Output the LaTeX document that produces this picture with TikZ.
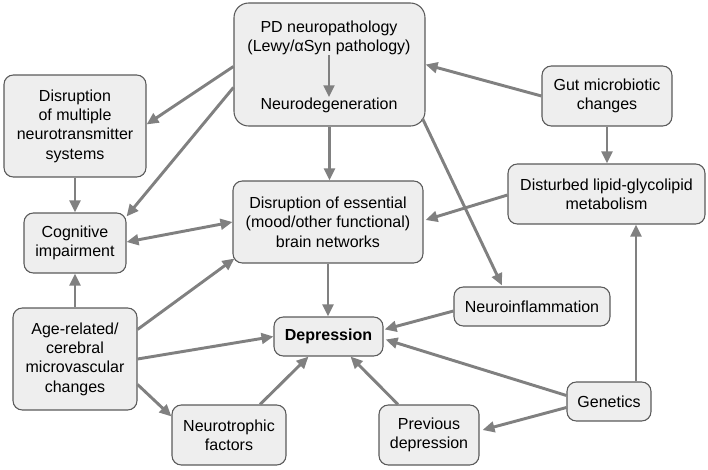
\documentclass[tikz,border=0pt]{standalone}
\usepackage{fontspec}
\setmainfont{Liberation Sans}
\usetikzlibrary{arrows.meta,calc}
\definecolor{boxfill}{HTML}{EEEEEE}
\definecolor{boxline}{HTML}{5A5A5A}
\definecolor{arrowcol}{HTML}{808080}
\begin{document}
\begin{tikzpicture}[x=0.75pt,y=-0.75pt,
  box/.style={draw=boxline,fill=boxfill,line width=0.8pt,rounded corners=7pt,align=center,inner sep=0pt,font=\fontsize{12}{14.5}\selectfont},
  txt/.style={align=center,inner sep=0pt,font=\fontsize{12}{14.5}\selectfont},
  conn/.style={draw=arrowcol,line width=2.2pt,-{Triangle[length=9pt,width=8pt]}},
  bconn/.style={draw=arrowcol,line width=2.2pt,{Triangle[length=9pt,width=8pt]}-{Triangle[length=9pt,width=8pt]}}]
\useasboundingbox (0,0) rectangle (708,469);
% boxes
\node[box,rounded corners=11pt,minimum width=143.25pt,minimum height=92.25pt] (pd) at (329.5,64.5) {};
\node[txt] (pdtext) at (329,38) {PD neuropathology\\(Lewy/αSyn pathology)};
\node[txt] (neurodeg) at (329,105) {Neurodegeneration};
\node[box,minimum width=106.5pt,minimum height=76.5pt] (multi) at (75,126) {Disruption\\of multiple\\neurotransmitter\\systems};
\node[box,minimum width=76.5pt,minimum height=45pt] (cog) at (75,243) {Cognitive\\impairment};
\node[box,minimum width=97.5pt,minimum height=45pt] (gut) at (607,96) {Gut microbiotic\\changes};
\node[box,minimum width=147.75pt,minimum height=45pt] (lipid) at (606.5,194) {Disturbed lipid-glycolipid\\metabolism};
\node[box,minimum width=142.5pt,minimum height=61.5pt] (ess) at (328,222) {Disruption of essential\\(mood/other functional)\\brain networks};
\node[box,minimum width=93pt,minimum height=76.5pt] (age) at (75,359) {Age-related/\\cerebral\\microvascular\\changes};
\node[box,minimum width=85.5pt,minimum height=45pt] (nt) at (229,435) {Neurotrophic\\factors};
\node[box,minimum width=81.75pt,minimum height=29.25pt,font=\fontsize{12}{14.5}\selectfont\bfseries] (dep) at (328.5,336.5) {Depression};
\node[box,minimum width=117pt,minimum height=29.25pt] (inflam) at (532,306.5) {Neuroinflammation};
\node[box,minimum width=63pt,minimum height=29.25pt] (gen) at (609,401.5) {Genetics};
\node[box,minimum width=75pt,minimum height=45pt] (prev) at (429,435) {Previous\\depression};
% connectors
\draw[conn] (pdtext) -- (neurodeg);
\draw[conn] ($(pd.north west)+(0,64)$) -- ($(multi.north east)+(0,50)$);
\draw[conn] ($(pd.north west)+(0,85)$) -- ($(cog.north east)+(0,4)$);
\draw[conn] (multi.south) -- (cog.north);
\draw[bconn] ($(cog.east)+(0,-1)$) -- (ess.west);
\draw[conn] (age.north) -- (cog.south);
\draw[conn] ($(age.north east)+(0,22)$) -- ($(ess.south west)+(2,-5)$);
\draw[conn] (age.east) -- (dep.west);
\draw[conn] ($(age.north east)+(0,77)$) -- ($(nt.north west)+(0,12)$);
\draw[conn] ($(nt.north)+(31,0)$) -- ($(dep.south)+(-20,0)$);
\draw[conn] ($(prev.north)+(-31,0)$) -- ($(dep.south)+(22,0)$);
\draw[conn] ($(gen.west)+(0,-6)$) -- ($(dep.east)+(2,3)$);
\draw[conn] ($(gen.west)+(0,6)$) -- ($(prev.east)+(3,-5)$);
\coordinate (gtop) at ($(gen.north)+(27,0)$);
\draw[conn] (gtop) -- (gtop |- lipid.south);
\draw[conn] ($(inflam.west)+(0,4.5)$) -- ($(dep.north east)+(1,13)$);
\draw[conn] ($(pd.south east)+(-3,-8)$) -- ($(inflam.north)+(-30,-1)$);
\draw[conn] (gut.west) -- (pd.east);
\draw[conn] (gut.south) -- (gut.south |- lipid.north);
\draw[conn] ($(lipid.west)+(0,1)$) -- ($(ess.east)+(2,-2)$);
\draw[conn] (pd.south) -- (pd.south |- ess.north);
\draw[conn] (ess.south) -- (ess.south |- dep.north);
\end{tikzpicture}
\end{document}
